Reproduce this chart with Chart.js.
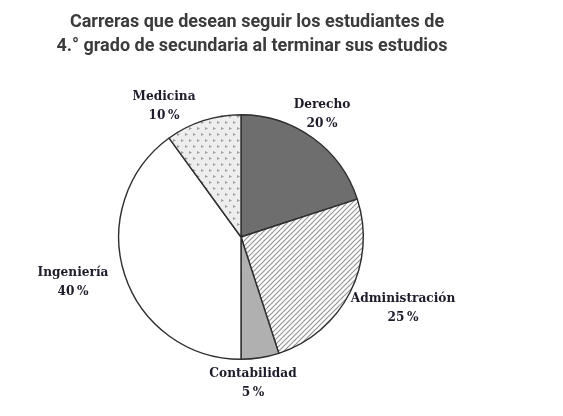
<!DOCTYPE html>
<html>
<head>
<meta charset="utf-8">
<script src="https://cdn.jsdelivr.net/npm/chart.js@4.4.0/dist/chart.umd.min.js"></script>
<style>
html,body{margin:0;padding:0;background:#fff;}
#wrap{position:relative;width:563px;height:416px;}
</style>
</head>
<body>
<div id="wrap"><canvas id="c" width="563" height="416"></canvas></div>
<script>
const categories = ["Derecho", "Administración", "Contabilidad", "Ingeniería", "Medicina"];
const values = [20, 25, 5, 40, 10];
const titleLines = ["Carreras que desean seguir los estudiantes de", "4.° grado de secundaria al terminar sus estudios"];

function hatchPattern() {
  const c = document.createElement('canvas');
  c.width = 5; c.height = 5;
  const g = c.getContext('2d');
  g.fillStyle = '#ffffff'; g.fillRect(0, 0, 5, 5);
  g.strokeStyle = '#959595'; g.lineWidth = 1.2;
  g.beginPath();
  g.moveTo(-1, 6); g.lineTo(6, -1);
  g.moveTo(-1, 1); g.lineTo(1, -1);
  g.moveTo(4, 6); g.lineTo(6, 4);
  g.stroke();
  return g.createPattern(c, 'repeat');
}
function dotPattern() {
  const c = document.createElement('canvas');
  c.width = 8; c.height = 12;
  const g = c.getContext('2d');
  g.fillStyle = '#eeeeee'; g.fillRect(0, 0, 8, 12);
  g.fillStyle = '#9e9e9e';
  function mark(x, y) {
    g.beginPath(); g.moveTo(x, y); g.lineTo(x + 3, y + 1.5); g.lineTo(x, y + 3); g.closePath(); g.fill();
  }
  mark(1, 1); mark(5, 7);
  return g.createPattern(c, 'repeat');
}

const colors = ['#6e6e6e', hatchPattern(), '#b0b0b0', '#ffffff', dotPattern()];

// text label placement (annotation layout, relative to pie centre)
const labelLayout = [
  {dx: 81, dy: -124},
  {dx: 162, dy: 70},
  {dx: 12, dy: 145},
  {dx: -168, dy: 44},
  {dx: -77, dy: -132}
];

const textPlugin = {
  id: 'texts',
  afterDraw(chart) {
    const ctx = chart.ctx;
    ctx.save();
    ctx.fillStyle = '#3b3b3b';
    ctx.font = 'bold 18px Roboto, "Noto Sans", sans-serif';
    ctx.textAlign = 'center';
    ctx.textBaseline = 'middle';
    ctx.fillText(titleLines[0], 257, 22);
    ctx.fillText(titleLines[1], 252, 46);
    const meta = chart.getDatasetMeta(0);
    const cx = meta.data[0].x, cy = meta.data[0].y;
    ctx.fillStyle = '#1c1c2a';
    ctx.font = 'bold 13.5px "DejaVu Serif Condensed", "DejaVu Serif", serif';
    categories.forEach((cat, i) => {
      const p = labelLayout[i];
      ctx.fillText(cat, cx + p.dx, cy + p.dy - 9);
      ctx.fillText(values[i] + '\u202F%', cx + p.dx, cy + p.dy + 10);
    });
    ctx.restore();
  }
};

new Chart(document.getElementById('c'), {
  type: 'pie',
  data: {
    labels: categories,
    datasets: [{
      data: values,
      backgroundColor: colors,
      borderColor: '#2e2e2e',
      borderWidth: 1.4
    }]
  },
  options: {
    responsive: false,
    animation: false,
    devicePixelRatio: 1,
    layout: {padding: {top: 114, bottom: 56, left: 118, right: 199}},
    plugins: {legend: {display: false}, tooltip: {enabled: false}, title: {display: false}}
  },
  plugins: [textPlugin]
});
</script>
</body>
</html>
